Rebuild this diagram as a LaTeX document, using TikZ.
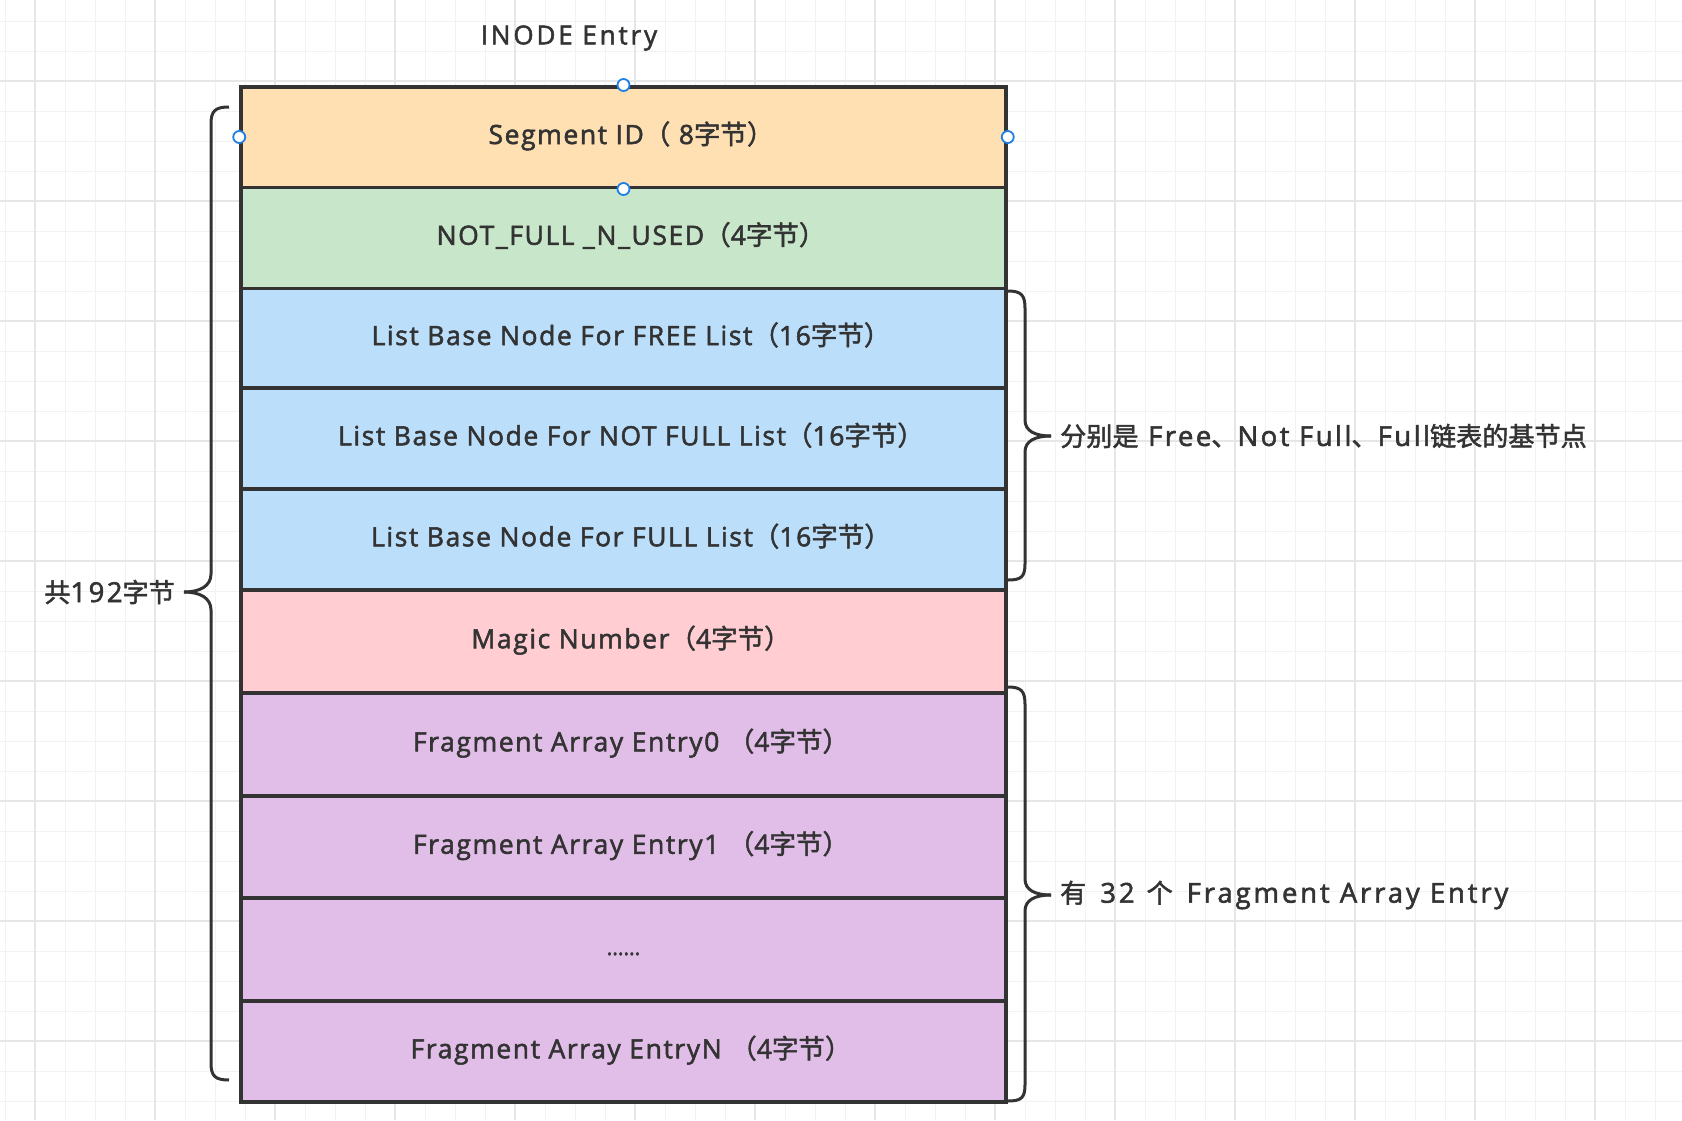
\documentclass[tikz,border=0pt]{standalone}
\usepackage{fontspec}
\setmainfont{Open Sans}[FakeBold=2]
\newfontfamily\cjk{Noto Sans CJK SC}[FakeBold=1.8]
\newfontfamily\cjkl{Noto Sans CJK SC}[FakeBold=1.8, Scale=0.95]
\newcommand\zjb[1]{{\cjk （}#1{\cjk 字节）}\kern-15pt}
\definecolor{linec}{HTML}{333333}
\definecolor{txt}{HTML}{333333}
\definecolor{cpeach}{HTML}{FFE0B2}
\definecolor{cgreen}{HTML}{C8E6C9}
\definecolor{cblue}{HTML}{BBDEFB}
\definecolor{cpink}{HTML}{FFCDD2}
\definecolor{cpurple}{HTML}{E1BEE7}
\definecolor{gminor}{HTML}{F2F2F2}
\definecolor{gmajor}{HTML}{E6E6E6}
\definecolor{hblue}{HTML}{1E7FE6}
\begin{document}
\begin{tikzpicture}[x=1pt,y=-1pt,
  cell/.style={draw=linec, line width=3.5pt, minimum width=765pt, anchor=north,
    inner sep=0pt, text=txt, text height=20pt, text depth=6pt,
    font=\fontsize{26.5pt}{30pt}\selectfont\addfontfeature{LetterSpace=6}},
  lab/.style={text=txt, inner sep=0pt, font=\fontsize{27.5pt}{32pt}\selectfont\addfontfeature{LetterSpace=9}},
  brace/.style={draw=linec, line width=3pt},
  handle/.style={circle, draw=hblue, fill=white, line width=1.8pt, minimum size=12pt, inner sep=0pt},
  gridminor/.style={draw=gminor, line width=1pt},
  gridmajor/.style={draw=gmajor, line width=1.6pt}]
\useasboundingbox (0,0) rectangle (1682,1120);
\fill[white] (0,0) rectangle (1682,1120);
% background grid
\foreach \x in {5,35,...,1685} \draw[gridminor] (\x,0) -- (\x,1120);
\foreach \y in {21,51,...,1120} \draw[gridminor] (0,\y) -- (1682,\y);
\foreach \x in {35,155,...,1685} \draw[gridmajor] (\x,0) -- (\x,1120);
\foreach \y in {81,201,...,1120} \draw[gridmajor] (0,\y) -- (1682,\y);

% title
\node[text=txt, inner sep=0pt, font=\fontsize{26pt}{30pt}\selectfont\addfontfeature{LetterSpace=11}] (title) at (569,38) {INODE Entry};

% cells
\node[cell, fill=cpeach, minimum height=100.5pt] (c1) at (623.5,85) {Segment ID{\cjk （} 8{\cjk 字节）}\kern-15pt};
\node[cell, fill=cgreen, minimum height=101pt] (c2) at (623.5,185.5) {NOT\_FULL \_N\_USED\zjb{4}};
\node[cell, fill=cblue, minimum height=99.5pt] (c3) at (623.5,286.5) {List Base Node For FREE List\zjb{16}};
\node[cell, fill=cblue, minimum height=101pt] (c4) at (623.5,386) {List Base Node For NOT FULL List\zjb{16}};
\node[cell, fill=cblue, minimum height=101pt] (c5) at (623.5,487) {List Base Node For FULL List\zjb{16}};
\node[cell, fill=cpink, minimum height=103pt] (c6) at (623.5,588) {Magic Number\zjb{4}};
\node[cell, fill=cpurple, minimum height=103pt] (c7) at (623.5,691) {Fragment Array Entry0 \zjb{4}};
\node[cell, fill=cpurple, minimum height=102pt] (c8) at (623.5,794) {Fragment Array Entry1 \zjb{4}};
\node[cell, fill=cpurple, minimum height=103pt] (c9) at (623.5,896) {};
\node[cell, fill=cpurple, minimum height=101pt] (c10) at (623.5,999) {Fragment Array EntryN \zjb{4}};
\node[text=txt, inner sep=0pt, anchor=base, font=\fontsize{21pt}{24pt}\selectfont] (dots) at (623.5,955) {......};

% selection handles
\node[handle] (h1) at (c1.north) {};
\node[handle] (h2) at (c1.west) {};
\node[handle] (h3) at (c1.east) {};
\node[handle] (h4) at (c1.south) {};

% left brace
\draw[brace] (229,107) .. controls (215,107) and (211,111) .. (211,124) -- (211,574)
  .. controls (211,586) and (200,592) .. (184,592);
\draw[brace] (184,592) .. controls (200,592) and (211,598) .. (211,610) -- (211,1063)
  .. controls (211,1076) and (215,1080) .. (229,1080);
\node[lab, anchor=east] (ltot) at (175,592) {{\cjkl 共}192{\cjkl 字节}};

% right brace 1
\draw[brace] (1008,291) .. controls (1021,291) and (1025,295) .. (1025,308) -- (1025,420)
  .. controls (1025,431) and (1035,436) .. (1051,436);
\draw[brace] (1051,436) .. controls (1035,436) and (1025,441) .. (1025,452) -- (1025,564)
  .. controls (1025,577) and (1021,580) .. (1008,580);
\node[lab, anchor=west] (r1) at (1060,436) {{\cjkl 分别是} Free{\cjkl 、}Not Full{\cjkl 、}Full{\cjkl 链表的基节点}};

% right brace 2
\draw[brace] (1008,687) .. controls (1021,687) and (1025,691) .. (1025,704) -- (1025,879)
  .. controls (1025,890) and (1035,895) .. (1051,895);
\draw[brace] (1051,895) .. controls (1035,895) and (1025,900) .. (1025,911) -- (1025,1085)
  .. controls (1025,1098) and (1021,1101) .. (1008,1101);
\node[lab, anchor=west, font=\fontsize{27.5pt}{32pt}\selectfont\addfontfeature{LetterSpace=10.5}] (r2) at (1060,895)
  {{\cjkl 有}\hspace{14pt}32\hspace{12pt}{\cjkl 个}\hspace{14pt}Fragment Array Entry};
\end{tikzpicture}
\end{document}
